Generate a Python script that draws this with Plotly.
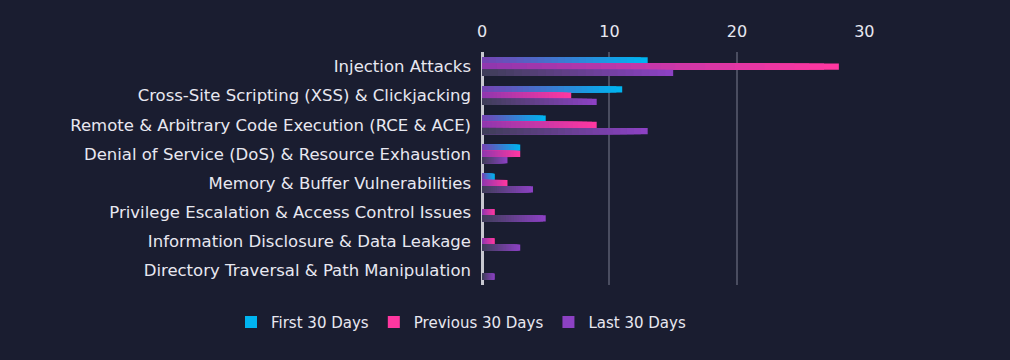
import plotly.graph_objects as go

categories = [
    "Injection Attacks",
    "Cross-Site Scripting (XSS) & Clickjacking",
    "Remote & Arbitrary Code Execution (RCE & ACE)",
    "Denial of Service (DoS) & Resource Exhaustion",
    "Memory & Buffer Vulnerabilities",
    "Privilege Escalation & Access Control Issues",
    "Information Disclosure & Data Leakage",
    "Directory Traversal & Path Manipulation",
]
first_30 = [13, 11, 5, 3, 1, 0, 0, 0]
previous_30 = [28, 7, 9, 3, 2, 1, 1, 0]
last_30 = [15, 9, 13, 2, 4, 5, 3, 1]
series_names = ["First 30 Days", "Previous 30 Days", "Last 30 Days"]

# gradient colours (left -> right)
grads = [
    ((122, 63, 176), (0, 180, 240)),
    ((140, 55, 175), (255, 55, 160)),
    ((60, 62, 85), (140, 65, 195)),
]

def mix(a, b, t):
    return "rgb(%d,%d,%d)" % tuple(round(a[i] + (b[i] - a[i]) * t) for i in range(3))

fig = go.Figure()
steps = 24
for si, (name, vals) in enumerate(zip(series_names, [first_30, previous_30, last_30])):
    c0, c1 = grads[si]
    for k in range(steps):
        frac = 1 - k / steps
        fig.add_trace(go.Bar(
            y=categories, x=[v * frac for v in vals], orientation="h",
            name=name, offsetgroup=str(si), legendgroup=name,
            showlegend=(k == 0),
            marker=dict(color=mix(c0, c1, frac), line=dict(width=0)),
            hoverinfo="skip" if k else None,
        ))

bg = "#1a1d30"
fig.update_layout(
    width=1010, height=360,
    paper_bgcolor=bg, plot_bgcolor=bg,
    margin=dict(l=482, r=145, t=52, b=75),
    barmode="group", bargap=0.36, bargroupgap=0,
    font=dict(family="'DejaVu Sans', sans-serif", size=16, color="#e8e8f0"),
    xaxis=dict(range=[0, 30.05], side="top", dtick=10, showgrid=True,
               gridcolor="#4a4d60", gridwidth=1.5, zeroline=True,
               zerolinecolor="#c8c8d0", zerolinewidth=2.5,
               tickfont=dict(size=16), ticks="", showline=False,
               ticklabelstandoff=11),
    yaxis=dict(autorange="reversed", showgrid=False, ticks="",
               tickfont=dict(size=16.5), ticklabelstandoff=10),
    legend=dict(orientation="h", x=(461 - 482) / (1010 - 482 - 145), xanchor="center",
                y=-0.16, yanchor="middle", xref="paper", font=dict(size=15),
                traceorder="normal", itemwidth=30),
)
fig.write_html(
    "out.html",
    config={"displayModeBar": False},
    post_script="document.body.style.margin='0';document.body.style.background='%s';" % bg,
)
